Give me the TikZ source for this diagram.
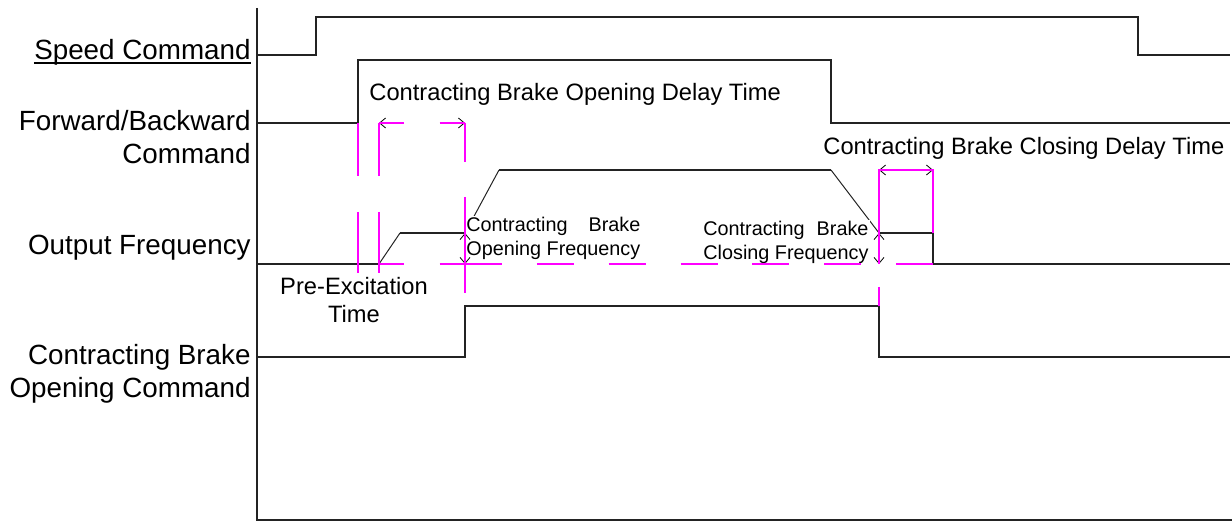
\documentclass[tikz,border=0pt]{standalone}
\usepackage{fontspec}
\setmainfont{Liberation Sans}
\usepackage{calc}
\usetikzlibrary{arrows.meta}
\definecolor{tkPink}{RGB}{255,0,255}
\definecolor{tkLine}{RGB}{35,35,35}

\begin{document}
\begin{tikzpicture}[x=0.5pt, y=-0.5pt,
  sig/.style={tkLine, line width=1pt},
  ramp/.style={tkLine, line width=0.5pt},
  guide/.style={tkPink, line width=1pt},
  barb/.style={black, line width=0.4pt, -{Straight Barb[length=3pt,width=5pt]}},
  freqarrow/.style={black, line width=0.4pt, densely dotted,
    {Straight Barb[length=3pt,width=5pt]}-{Straight Barb[length=3pt,width=5pt]}},
  siglab/.style={font=\fontsize{13.9}{16.5}\selectfont, align=right, inner sep=0pt, anchor=base east},
  midlab/.style={font=\fontsize{11.85}{14}\selectfont, fill=white, inner sep=1pt},
  smalllab/.style={font=\fontsize{9.9}{12}\selectfont, fill=white, inner sep=1pt, align=left, anchor=base west}]
\useasboundingbox (0,0) rectangle (1232,523);
% 电平（像素坐标，y 向下）
\def\ySpdH{17}  \def\ySpdL{55}
\def\yFwdH{60}  \def\yFwdL{123}
\def\yOutH{170} \def\yOutM{233} \def\yOutL{264}
\def\yBrkH{306} \def\yBrkL{357}
% 时刻
\def\tA{316} \def\tB{358} \def\tC{379} \def\tD{400} \def\tE{465}
\def\tF{499} \def\tG{831} \def\tH{879} \def\tI{933} \def\tJ{1138} \def\xR{1230}
% 坐标轴
\draw[sig] (257,8) -- (257,520) -- (1232,520);
% 信号名（多行节点的 base 取最后一行）
\node[siglab] (spd) at (251,60) {Speed Command};
\draw[line width=0.75pt] ([yshift=-1.6pt]spd.base west) -- ([yshift=-1.6pt]spd.base east);
\node[siglab] (fwd) at (251,164) {Forward/Backward\\Command};
\node[siglab] (out) at (251,255) {Output Frequency};
\node[siglab] (brk) at (251,398) {Contracting Brake\\Opening Command};
% 波形
\draw[sig] (257,\ySpdL) -- (\tA,\ySpdL) -- (\tA,\ySpdH) -- (\tJ,\ySpdH) -- (\tJ,\ySpdL) -- (\xR,\ySpdL);
\draw[sig] (257,\yFwdL) -- (\tB,\yFwdL) -- (\tB,\yFwdH) -- (\tG,\yFwdH) -- (\tG,\yFwdL) -- (\xR,\yFwdL);
\draw[sig] (257,\yOutL) -- (\tC,\yOutL);
\draw[ramp] (\tC,\yOutL) -- (\tD,\yOutM);
\draw[sig] (\tD,\yOutM) -- (\tE,\yOutM);
\draw[ramp] (\tE,\yOutM) -- (\tF,\yOutH);
\draw[sig] (\tF,\yOutH) -- (\tG,\yOutH);
\draw[ramp] (\tG,\yOutH) -- (\tH,\yOutM);
\draw[sig] (\tH,\yOutM) -- (\tI,\yOutM) -- (\tI,\yOutL) -- (\xR,\yOutL);
\draw[sig] (257,\yBrkL) -- (\tE,\yBrkL) -- (\tE,\yBrkH) -- (\tH,\yBrkH) -- (\tH,\yBrkL) -- (\xR,\yBrkL);
% 说明文字
\node[midlab, anchor=base west] (odelay) at (367,101) {Contracting Brake Opening Delay Time};
\node[midlab, anchor=base west] (cdelay) at (821,155) {Contracting Brake Closing Delay Time};
\node[midlab, align=center, anchor=base] (preexc) at (354,323) {Pre-Excitation\\Time};
\node[smalllab] (ofreq) at (464,256)
  {\makebox[\widthof{Opening Frequency}][l]{Contracting\hfill Brake}\\Opening Frequency};
\node[smalllab] (cfreq) at (701,260)
  {\makebox[\widthof{Closing Frequency}][l]{Contracting\hfill Brake}\\Closing Frequency};
% 频率箭头与时间箭头
\draw[freqarrow] (\tE,\yOutM) -- (\tE,\yOutL);
\draw[freqarrow] (\tH,\yOutM) -- (\tH,\yOutL);
\draw[barb] (386,\yFwdL) -- (\tC,\yFwdL);
\draw[barb] (458,\yFwdL) -- (\tE,\yFwdL);
\draw[barb] (886,\yOutH) -- (\tH,\yOutH);
\draw[barb] (926,\yOutH) -- (\tI,\yOutH);
% 辅助线（品红）
\draw[guide, dash pattern=on 26.5pt off 18pt on 40pt] (\tB,\yFwdL) -- (\tB,273);
\draw[guide, dash pattern=on 26.5pt off 18pt on 40pt] (\tC,\yFwdL) -- (\tC,273);
\draw[guide, dash pattern=on 19.5pt off 17.5pt on 60pt] (\tE,\yFwdL) -- (\tE,293);
\draw[guide, dash pattern=on 12.25pt off 18pt on 20pt] (\tC,\yFwdL) -- (\tE,\yFwdL);
\draw[guide, dash pattern=on 12.25pt off 18pt on 20pt] (\tC,\yOutL) -- (\tE,\yOutL);
\draw[guide, dash pattern=on 18.5pt off 17.42pt] (\tE,\yOutL) -- (\tI,\yOutL);
\draw[guide] (\tH,\yOutL) -- (\tH,\yOutH) -- (\tI,\yOutH) -- (\tI,\yOutM);
\draw[guide] (\tH,287) -- (\tH,\yBrkH);
\end{tikzpicture}
\end{document}
